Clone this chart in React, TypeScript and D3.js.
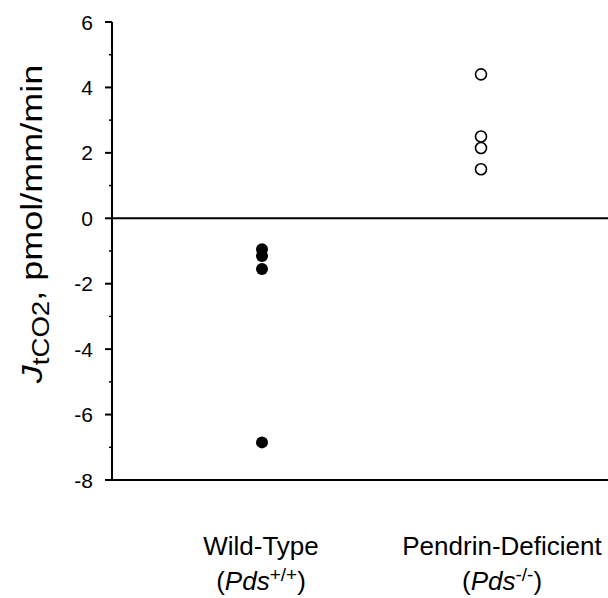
import React from 'react';
import * as d3 from 'd3';

// categories and measured values (JtCO2, pmol/mm/min)
const groups = ['Wild-Type', 'Pendrin-Deficient'];
const genotypeSup = ['+/+', '-/-'];
const wildType = [-0.95, -1.15, -1.55, -6.85];
const pendrinDeficient = [4.4, 2.5, 2.15, 1.5];
const yTicks = [-8, -6, -4, -2, 0, 2, 4, 6];
const yMinorTicks = [-7, -5, -3, -1, 1, 3, 5];

const width = 608;
const height = 598;
const font = 'Arial, "Liberation Sans", Helvetica, sans-serif';

export default function App() {
  const y = d3.scaleLinear().domain([-8, 6]).range([480, 22]);
  const x = d3.scalePoint().domain(groups).range([262, 481]).padding(0);
  const axisX = 112;
  const labelShift = [-1, 21];

  const series = [
    { group: groups[0], values: wildType, filled: true },
    { group: groups[1], values: pendrinDeficient, filled: false },
  ];

  return (
    <svg width={width} height={height} style={{ position: 'absolute', left: 0, top: 0, background: '#fff' }}>
      {/* y axis */}
      <line x1={axisX} x2={axisX} y1={y(6)} y2={y(-8)} stroke="#000" strokeWidth={2} />
      {yTicks.map(t => (
        <g key={t}>
          <line x1={axisX - 7} x2={axisX} y1={y(t)} y2={y(t)} stroke="#000" strokeWidth={2} />
          <text x={93} y={y(t)} dy="0.36em" textAnchor="end" fontFamily={font} fontSize={21}>{t}</text>
        </g>
      ))}
      {yMinorTicks.map(t => (
        <line key={t} x1={axisX - 3} x2={axisX} y1={y(t)} y2={y(t)} stroke="#000" strokeWidth={1.5} />
      ))}
      {/* baseline and zero line */}
      <line x1={axisX - 6} x2={width} y1={y(-8)} y2={y(-8)} stroke="#000" strokeWidth={2} />
      <line x1={axisX} x2={width} y1={y(0)} y2={y(0)} stroke="#000" strokeWidth={2} />

      {/* y title */}
      <text transform={`translate(42, 224) rotate(-90) scale(1.2, 1)`} textAnchor="middle"
        fontFamily={font} fontSize={30}>
        <tspan fontStyle="italic">J</tspan>
        <tspan fontSize={23} dy={7}>tCO2</tspan>
        <tspan dy={-7}>, pmol/mm/min</tspan>
      </text>

      {/* points */}
      {series.map(s => s.values.map((v, i) => (
        <circle key={s.group + i} cx={x(s.group)} cy={y(v)} r={s.filled ? 6 : 5.5}
          fill={s.filled ? '#000' : 'none'} stroke="#000" strokeWidth={s.filled ? 0 : 1.6} />
      )))}

      {/* category labels */}
      {groups.map((g, i) => (
        <g key={g} fontFamily={font} fontSize={26} textAnchor="middle">
          <text x={(x(g) as number) + labelShift[i]} y={555}>{g}</text>
          <text x={(x(g) as number) + labelShift[i]} y={590}>
            (<tspan fontStyle="italic">Pds</tspan>
            <tspan fontSize={19} dy={-9}>{genotypeSup[i]}</tspan>
            <tspan dy={9}>)</tspan>
          </text>
        </g>
      ))}
    </svg>
  );
}
